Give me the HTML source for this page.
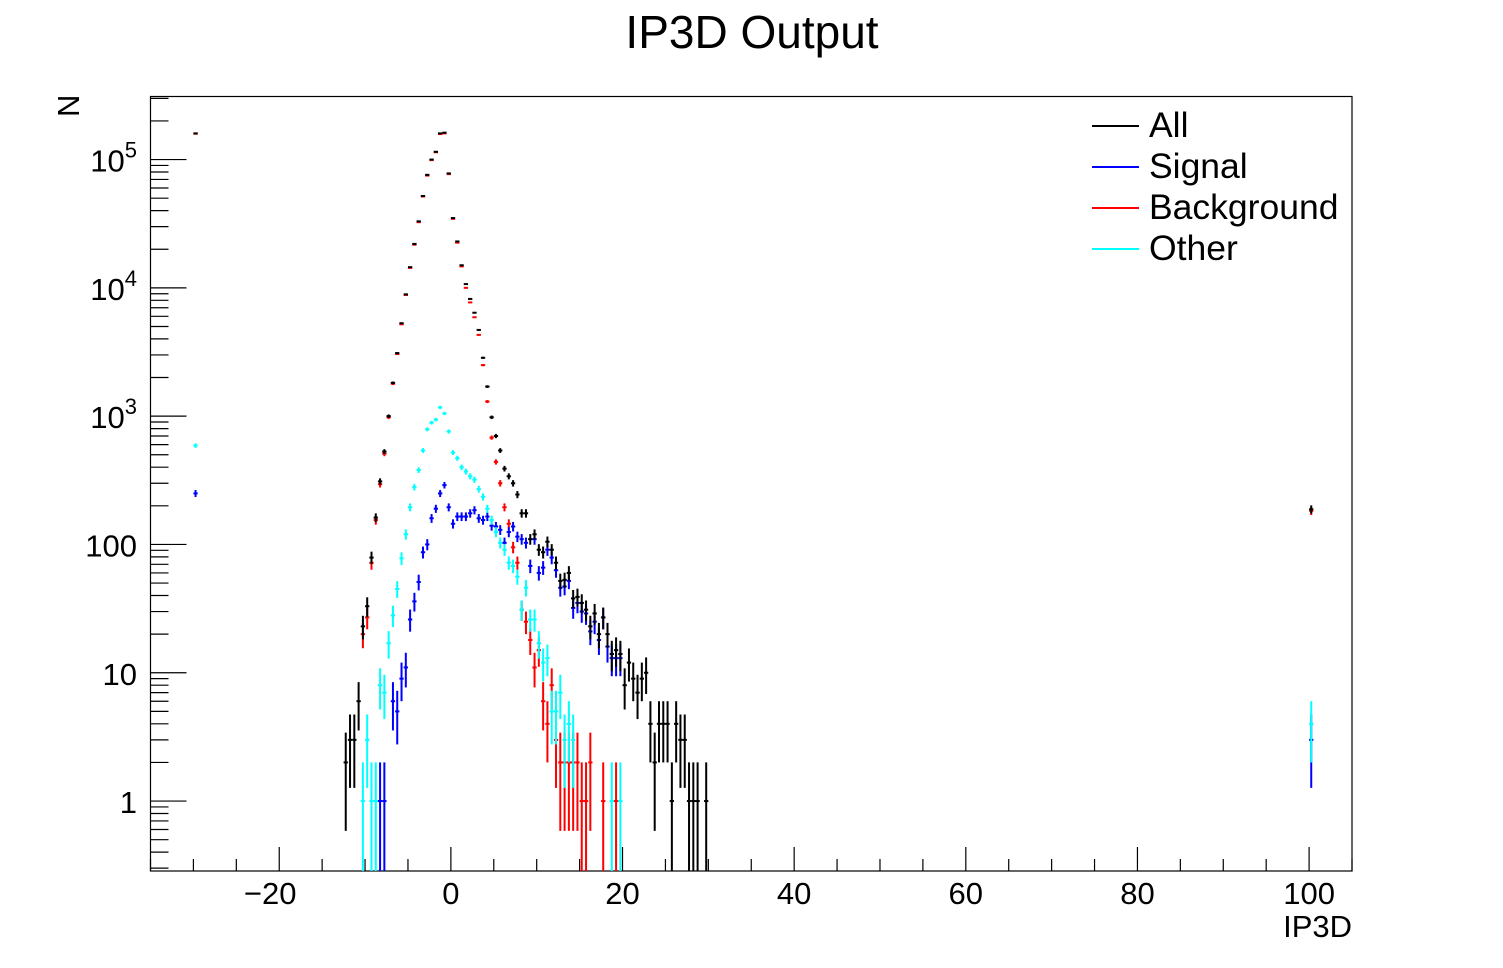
<!DOCTYPE html>
<html><head><meta charset="utf-8"><style>
html,body{margin:0;padding:0;background:#fff;}
svg{display:block;font-family:"Liberation Sans",Arial,sans-serif;}
</style></head><body>
<svg id="chart" width="1503" height="968" viewBox="0 0 1503 968">
<text x="752" y="48" font-size="46" text-anchor="middle">IP3D Output</text>
<rect x="150.5" y="96.5" width="1201.5" height="774.5" fill="none" stroke="#000" stroke-width="1.2"/>
<g id="axes"></g>
<g id="marks"></g>
<text x="1352" y="937" font-size="31" text-anchor="end">IP3D</text>
<text transform="translate(79,117) rotate(-90)" font-size="31" text-anchor="start">N</text>
<g>
<g><line x1="1092" y1="126" x2="1139" y2="126" stroke="#000" stroke-width="2"/><text x="1149" y="137" font-size="35.5">All</text></g>
<g><line x1="1092" y1="167" x2="1139" y2="167" stroke="#0000ff" stroke-width="2"/><text x="1149" y="178" font-size="35.5">Signal</text></g>
<g><line x1="1092" y1="208" x2="1139" y2="208" stroke="#ff0000" stroke-width="2"/><text x="1149" y="219" font-size="35.5">Background</text></g>
<g><line x1="1092" y1="249" x2="1139" y2="249" stroke="#00ffff" stroke-width="2"/><text x="1149" y="260" font-size="35.5">Other</text></g>
</g>
</svg>
<script>
// bins: centers start at -12.25, width 0.5
const binStart = -12.25;
const binWidth = 0.5;
const allCounts = [2,3,3,6,23,33,79,162,310,530,
 1000,1820,3100,5300,8900,14500,22000,33000,52000,76000,
 100000,115000,160000,162000,78000,35000,23000,15000,10700,8200,
 6400,4700,2850,1700,980,700,540,390,340,300,
 245,175,175,110,120,91,87,105,91,72,
 52,53,60,38,39,35,31,23,29,20,
 27,20,14,15,14,8,12,9,7,9,
 10,4,2,4,4,4,1,4,3,3,
 1,1,1,0,1];
const signalCounts = [0,0,0,0,0,0,0,0,1,1,
 0,6,5,9,11,26,36,51,87,100,
 160,190,250,290,195,145,165,165,165,175,
 185,160,155,165,140,138,130,103,125,138,
 115,110,103,68,110,60,66,91,79,63,
 46,47,52,32,35,30,29,21,25,18,
 27,16,13,13,13,0,0,0,0,0,
 0,0,0,0,0,0,0,0,0,0,
 0,0,0,0,0];
const backgroundCounts = [0,0,0,0,20,27,72,155,295,510,
 980,1790,3050,5200,8800,14300,21700,32500,51500,75000,
 99000,114000,158000,160000,77000,34500,22500,14700,10000,7700,
 5900,4300,2500,1300,680,440,300,195,145,95,
 72,31,25,18,11,15,6,4,8,3,
 2,2,2,2,2,1,1,2,0,0,
 1,0,0,1,0,0,0,0,0,0,
 0,0,0,0,0,0,0,0,0,0,
 0,0,0,0,0];
const otherCounts = [0,0,0,0,1,3,1,1,8,7,
 17,28,45,78,120,195,280,380,540,790,
 890,940,1170,1050,760,520,470,400,370,340,
 320,270,235,190,155,125,103,91,72,68,
 56,31,46,26,26,17,12,13,5,5,
 7,3,4,3,0,0,0,0,0,0,
 0,0,1,0,1,0,0,0,0,0,
 0,0,0,0,0,0,0,0,0,0,
 0,0,0,0,0];
// isolated bins (underflow-like and overflow-like)
const extraX = [-29.75, 100.25];
const extraAll = [160000, 188];
const extraSignal = [250, 3];
const extraBackground = [159000, 183];
const extraOther = [590, 4];
const xTickLabels = [-20, 0, 20, 40, 60, 80, 100];
const yTickLabels = [1, 10, 100, 1000, 10000, 100000];

const NS = "http://www.w3.org/2000/svg";
const X0 = 150.5, X1 = 1352, XMIN = -35, XMAX = 105;
const YT = 97, YB = 871, LMIN = Math.log10(0.285), LMAX = Math.log10(0.285) + (871 - 97) / 128.3;
function xs(v){ return X0 + (v - XMIN) / (XMAX - XMIN) * (X1 - X0); }
function ys(v){ return YB - (Math.log10(v) - LMIN) / (LMAX - LMIN) * (YB - YT); }
function mk(tag, attrs, parent){
  const e = document.createElementNS(NS, tag);
  for (const k in attrs) e.setAttribute(k, attrs[k]);
  parent.appendChild(e); return e;
}
const axes = document.getElementById("axes");
for (let v = -35; v <= 105; v += 5) {
  const major = v % 20 === 0;
  const t = mk("line", {x1: xs(v), x2: xs(v), y1: YB, y2: YB - (major ? 24 : 12), stroke: "#000", "stroke-width": 1.2}, axes);
  
  
}
xTickLabels.forEach(v => {
  const t = mk("text", {x: xs(v) - (v < 0 ? 9 : 0), y: 904, "font-size": 31, "text-anchor": "middle"}, axes);
  t.textContent = v < 0 ? "\u2212" + Math.abs(v) : String(v);
  
  
});
for (let d = -1; d <= 5; d++) {
  for (let m = 1; m <= 9; m++) {
    const v = m * Math.pow(10, d);
    if (v < 0.285 || ys(v) < YT) continue;
    const t = mk("line", {x1: X0, x2: X0 + (m === 1 ? 36 : 18), y1: ys(v), y2: ys(v), stroke: "#000", "stroke-width": 1.2}, axes);
    
    
  }
}
yTickLabels.forEach(v => {
  const t = mk("text", {x: 137, y: ys(v) + 12, "font-size": 31, "text-anchor": "end"}, axes);
  if (v >= 1000) {
    const p = Math.round(Math.log10(v));
    t.textContent = "10";
    const s = mk("tspan", {dy: -14, "font-size": 22}, t);
    s.textContent = String(p);
  } else t.textContent = String(v);
  
  
});
const marks = document.getElementById("marks");
function drawSeries(name, color, counts, ex){
  const g = mk("g", {}, marks);
  
  
  const pts = [];
  counts.forEach((n, i) => pts.push([binStart + i * binWidth, n]));
  ex.forEach((n, i) => pts.push([extraX[i], n]));
  pts.forEach(([c, n]) => {
    if (n <= 0) return;
    const px = xs(c), py = ys(n);
    if (py < YT || py > YB) return;
    const e = Math.sqrt(n);
    const top = Math.max(YT, ys(n + e));
    const bot = (n - e) > 0.285 ? ys(n - e) : YB;
    const grp = mk("g", {}, g);
    
    
    mk("line", {x1: px, x2: px, y1: top, y2: Math.min(YB, bot), stroke: color, "stroke-width": 2}, grp);
    const hw = (xs(binWidth) - xs(0)) / 2;
    mk("line", {x1: px - hw, x2: px + hw, y1: py, y2: py, stroke: color, "stroke-width": 2}, grp);
  });
}
drawSeries("background", "#ff0000", backgroundCounts, extraBackground);
drawSeries("signal", "#0000ff", signalCounts, extraSignal);
drawSeries("other", "#00ffff", otherCounts, extraOther);
drawSeries("all", "#000000", allCounts, extraAll);
</script>
</body></html>
